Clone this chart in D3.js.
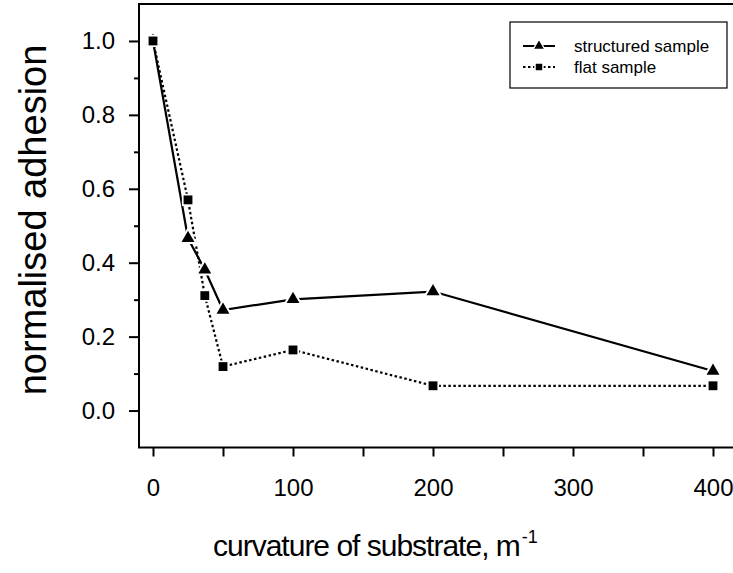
<!DOCTYPE html>
<html>
<head>
<meta charset="utf-8">
<script src="https://cdn.jsdelivr.net/npm/d3@7"></script>
<style>
  body { margin: 0; background: #fff; }
  svg { display: block; }
</style>
</head>
<body>
<div id="wrapper"></div>
<script>
// data
const curvature = [0, 25, 37, 50, 100, 200, 400]
const structuredSample = [1.0, 0.466, 0.381, 0.272, 0.301, 0.322, 0.107]
const flatSample = [1.0, 0.57, 0.311, 0.119, 0.164, 0.067, 0.067]
const xTickLabels = [0, 100, 200, 300, 400]
const yTickLabels = [0.0, 0.2, 0.4, 0.6, 0.8, 1.0]

function drawChart() {
  const dimensions = { width: 733, height: 573 }

  const svg = d3
    .select("#wrapper")
    .append("svg")
    .attr("width", dimensions.width)
    .attr("height", dimensions.height)
    .style("font-family", "'Liberation Sans', Arial, sans-serif")

  // scales (frame runs past the right edge of the picture)
  const xScale = d3.scaleLinear().domain([-10, 430]).range([139, 139 + 1.4 * 440])
  const yScale = d3.scaleLinear().domain([-0.1, 1.1]).range([447.5, 4])

  svg
    .append("rect")
    .attr("x", xScale(-10))
    .attr("y", yScale(1.1))
    .attr("width", xScale(430) - xScale(-10))
    .attr("height", yScale(-0.1) - yScale(1.1))
    .attr("fill", "none")
    .attr("stroke", "#000")
    .attr("stroke-width", 2)

  // x axis
  const xAxis = svg
    .append("g")
    .attr("transform", `translate(0, ${yScale(-0.1)})`)
    .call(
      d3
        .axisBottom(xScale)
        .tickValues(d3.range(0, 401, 50))
        .tickSize(9)
        .tickPadding(22)
        .tickFormat((d) => (xTickLabels.includes(d) ? d : ""))
    )
  xAxis.select(".domain").remove()
  xAxis.selectAll("line").attr("stroke-width", 2)
  xAxis.selectAll("text").style("font-size", "24px").attr("fill", "#000")

  // y axis
  const yAxis = svg
    .append("g")
    .attr("transform", `translate(${xScale(-10)}, 0)`)
    .call(
      d3
        .axisLeft(yScale)
        .tickValues(yTickLabels)
        .tickSize(10)
        .tickPadding(14)
        .tickFormat(d3.format(".1f"))
    )
  yAxis.select(".domain").remove()
  yAxis.selectAll("line").attr("stroke-width", 2)
  yAxis.selectAll("text").style("font-size", "24px").attr("fill", "#000")

  const yMinor = svg
    .append("g")
    .attr("transform", `translate(${xScale(-10)}, 0)`)
    .call(
      d3
        .axisLeft(yScale)
        .tickValues([0.1, 0.3, 0.5, 0.7, 0.9])
        .tickSize(5)
        .tickFormat("")
    )
  yMinor.select(".domain").remove()
  yMinor.selectAll("line").attr("stroke-width", 2)

  // axis titles
  svg
    .append("text")
    .attr("transform", `translate(46, 220) rotate(-90)`)
    .attr("text-anchor", "middle")
    .style("font-size", "38px")
    .text("normalised adhesion")

  const xTitle = svg
    .append("text")
    .attr("x", 213)
    .attr("y", 556)
    .style("font-size", "30px")
    .style("letter-spacing", "-1px")
    .text("curvature of substrate, m")
  xTitle
    .append("tspan")
    .attr("dy", -13)
    .attr("dx", 2)
    .style("font-size", "18px")
    .style("letter-spacing", "0px")
    .text("-1")

  // lines
  const series = [
    { name: "structured sample", values: structuredSample, dash: null, marker: "triangle" },
    { name: "flat sample", values: flatSample, dash: "2.5 2.5", marker: "square" },
  ]

  const lineGenerator = d3
    .line()
    .x((d) => xScale(d[0]))
    .y((d) => yScale(d[1]))

  const symbolFor = (m, size) =>
    d3.symbol().type(m === "triangle" ? d3.symbolTriangle : d3.symbolSquare).size(size)

  series.forEach((s) => {
    const points = curvature.map((c, i) => [c, s.values[i]])
    svg
      .append("path")
      .datum(points)
      .attr("d", lineGenerator)
      .attr("fill", "none")
      .attr("stroke", "#000")
      .attr("stroke-width", 2.2)
      .attr("stroke-dasharray", s.dash)
  })

  series.forEach((s) => {
    const points = curvature.map((c, i) => [c, s.values[i]])
    const big = s.marker === "triangle" ? 170 : 150
    const small = s.marker === "triangle" ? 72 : 78
    const g = svg.append("g")
    g.selectAll(".halo")
      .data(points)
      .join("path")
      .attr("transform", (d) => `translate(${xScale(d[0])}, ${yScale(d[1])})`)
      .attr("d", symbolFor(s.marker, big))
      .attr("fill", "#fff")
    g.selectAll(".mark")
      .data(points)
      .join("path")
      .attr("transform", (d) => `translate(${xScale(d[0])}, ${yScale(d[1])})`)
      .attr("d", symbolFor(s.marker, small))
      .attr("fill", "#000")
  })

  // legend
  const legend = svg.append("g")
  legend
    .append("rect")
    .attr("x", 510)
    .attr("y", 22)
    .attr("width", 217)
    .attr("height", 66)
    .attr("fill", "#fff")
    .attr("stroke", "#000")
    .attr("stroke-width", 1.2)

  series.forEach((s, i) => {
    const y = 46 + i * 21
    legend
      .append("line")
      .attr("x1", 523)
      .attr("x2", 555)
      .attr("y1", y)
      .attr("y2", y)
      .attr("stroke", "#000")
      .attr("stroke-width", 2)
      .attr("stroke-dasharray", s.dash)
    legend
      .append("path")
      .attr("transform", `translate(539, ${y})`)
      .attr("d", symbolFor(s.marker, 90))
      .attr("fill", "#fff")
    legend
      .append("path")
      .attr("transform", `translate(539, ${y})`)
      .attr("d", symbolFor(s.marker, s.marker === "triangle" ? 40 : 42))
      .attr("fill", "#000")
    legend
      .append("text")
      .attr("x", 574)
      .attr("y", y)
      .attr("dy", "0.35em")
      .style("font-size", "17px")
      .text(s.name)
  })
}
drawChart()
</script>
</body>
</html>
